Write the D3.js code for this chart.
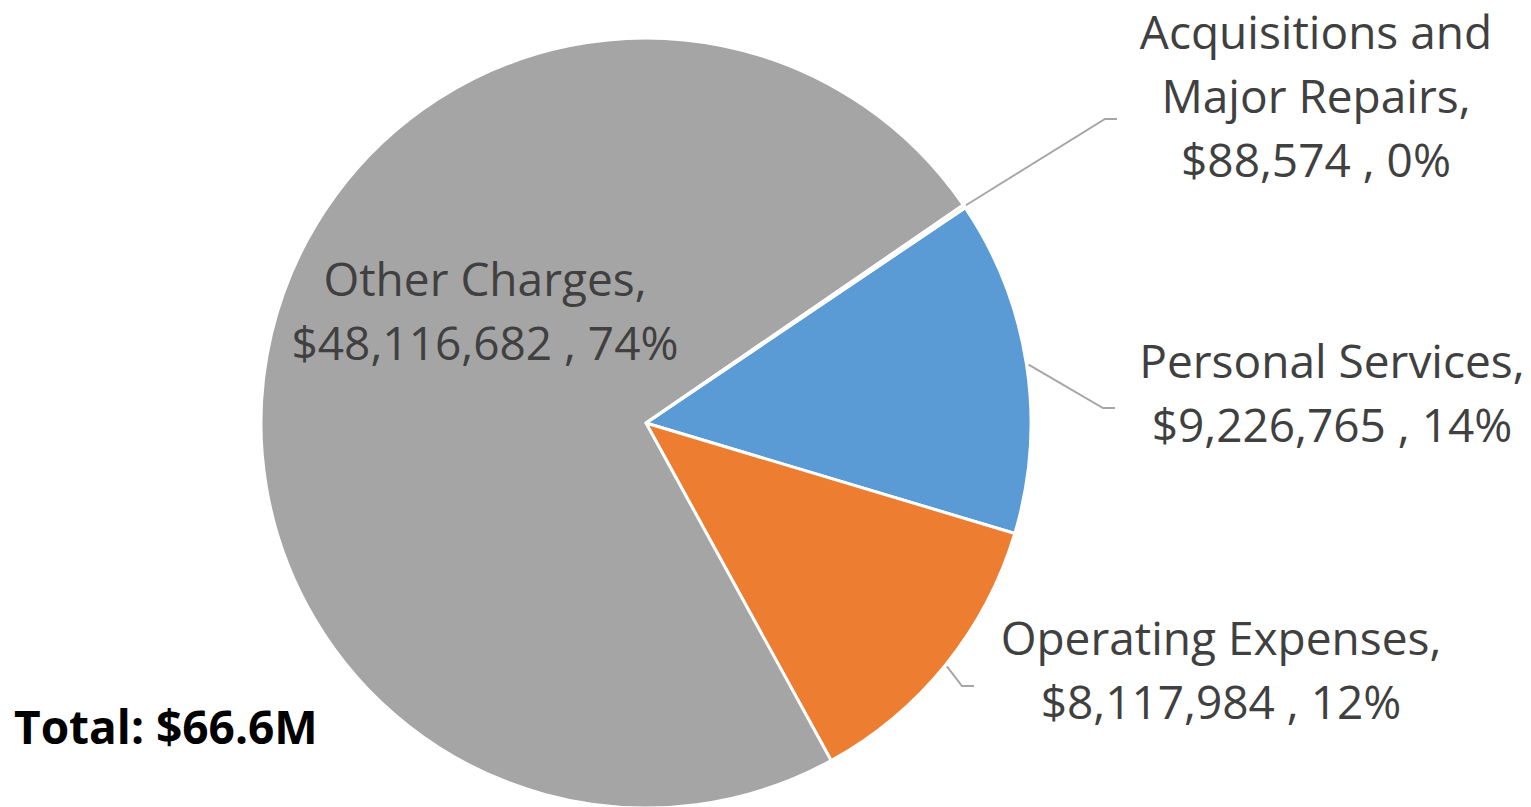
<!DOCTYPE html>
<html>
<head lang="en">
    <meta charset="UTF-8">
    <title>Expenditures</title>
    <script src="https://cdn.jsdelivr.net/npm/d3@7"></script>
    <style>
        body{margin:0;background:#fff;}
    </style>
</head>
<body>
<script>
    // data, in Excel series order
    var categories=["Personal Services","Operating Expenses","Other Charges","Acquisitions and Major Repairs"];
    var amounts=[9226765,8117984,48116682,88574];
    var amountLabels=["$9,226,765","$8,117,984","$48,116,682","$88,574"];
    var pctLabels=["14%","12%","74%","0%"];
    var colors=["#5b9bd5","#ed7d31","#a5a5a5","#ffc000"];
    var totalLabel="Total: $66.6M";

    var width=1531,height=807;
    var cx=646,cy=423,radius=385;
    var firstAngle=56*Math.PI/180;//excel "angle of first slice"

    var _data=categories.map(function(c,i){
        return {name:c,value:amounts[i],amount:amountLabels[i],pct:pctLabels[i],color:colors[i]};
    });

    var _pie=d3.pie()
            .sort(null)
            .value(function(d){return d.value;})
            .startAngle(firstAngle)
            .endAngle(firstAngle+2*Math.PI);
    var _arcs=_pie(_data);

    var _arc=d3.arc().innerRadius(0).outerRadius(radius);

    var _svg=d3.select("body")
            .append("svg")
            .attr("width",width)
            .attr("height",height);

    var g=_svg.append("g").attr("transform","translate("+cx+","+cy+")");

    g.selectAll("path")
            .data(_arcs)
            .enter()
            .append("path")
            .attr("d",_arc)
            .style("fill",function(d){return d.data.color;})
            .style("stroke","#fff")
            .style("stroke-width",3)
            .style("stroke-linejoin","round");

    // label layout: lines of text, centre x, first baseline, elbow of leader line (null = inside)
    var labelLayout={
        "Other Charges":{lines:function(d){return [d.name+",",d.amount+" , "+d.pct];},x:485,y:296,elbow:null},
        "Acquisitions and Major Repairs":{lines:function(d){return ["Acquisitions and","Major Repairs,",d.amount+" , "+d.pct];},x:1316,y:49,elbow:[1105,119,1117]},
        "Personal Services":{lines:function(d){return [d.name+",",d.amount+" , "+d.pct];},x:1332,y:378,elbow:[1103,408,1115]},
        "Operating Expenses":{lines:function(d){return [d.name+",",d.amount+" , "+d.pct];},x:1221,y:655,elbow:[962,686,974]}
    };
    var lineGap=64;

    // leader lines start on the rim at the slice's middle angle
    _arcs.forEach(function(a){
        var L=labelLayout[a.data.name];
        if(!L.elbow)return;
        var mid=(a.startAngle+a.endAngle)/2;
        var sx=cx+(radius+2)*Math.sin(mid),sy=cy-(radius+2)*Math.cos(mid);
        _svg.append("polyline")
                .attr("points",[[sx,sy],[L.elbow[0],L.elbow[1]],[L.elbow[2],L.elbow[1]]].join(" "))
                .style("fill","none")
                .style("stroke","#a6a6a6")
                .style("stroke-width",2);
    });

    _arcs.forEach(function(a){
        var L=labelLayout[a.data.name];
        var t=_svg.append("text")
                .attr("text-anchor","middle")
                .style("font-family","'Open Sans',sans-serif")
                .style("font-size","46px")
                .style("fill","#404040");
        L.lines(a.data).forEach(function(s,i){
            t.append("tspan")
                    .attr("x",L.x)
                    .attr("y",L.y+i*lineGap)
                    .text(s);
        });
    });

    _svg.append("text")
            .attr("x",14)
            .attr("y",744)
            .text(totalLabel)
            .style("font-family","'Open Sans',sans-serif")
            .style("font-weight","bold")
            .style("font-size","46px")
            .style("fill","#000");
</script>
</body>
</html>
